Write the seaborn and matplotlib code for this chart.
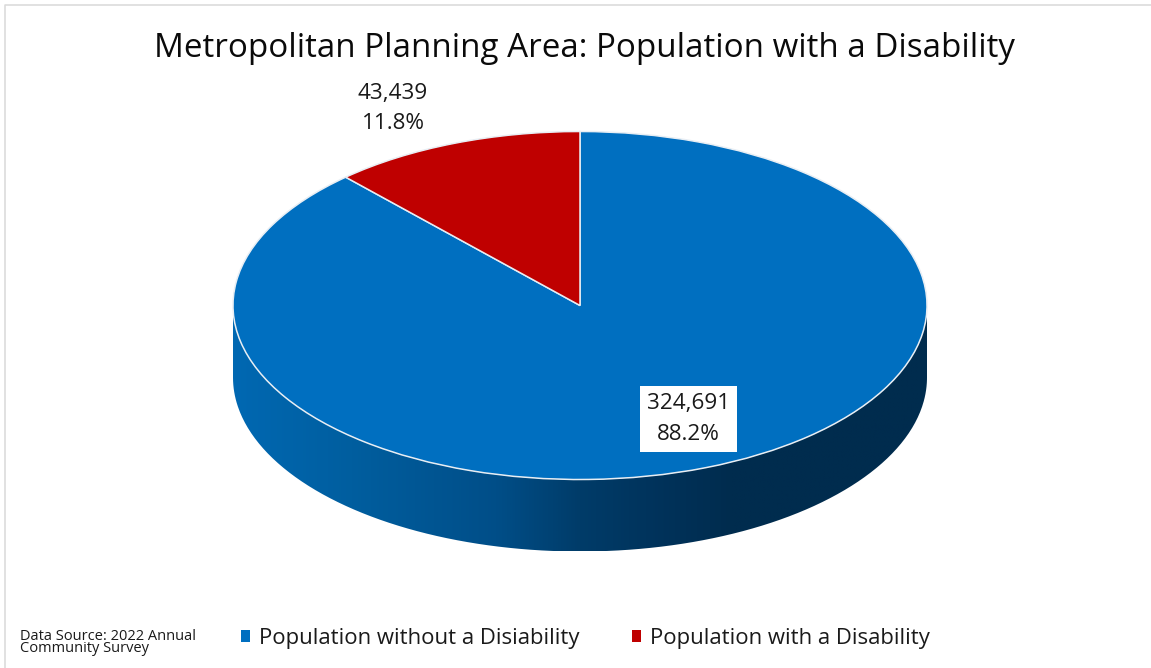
import numpy as np
import matplotlib
matplotlib.use("Agg")
import matplotlib.pyplot as plt
from matplotlib.colors import LinearSegmentedColormap
from matplotlib.patches import PathPatch
from matplotlib.path import Path
from matplotlib.lines import Line2D
import seaborn as sns

categories = ["Population without a Disiability", "Population with a Disability"]
values = [324691, 43439]
percents = [88.2, 11.8]
title = "Metropolitan Planning Area: Population with a Disability"
source = "Data Source: 2022 Annual\nCommunity Survey"

sns.set_theme(style="white")
FONT = "Open Sans"
plt.rcParams["font.family"] = [FONT, "DejaVu Sans"]
palette = sns.color_palette(["#006FC0", "#BF0000"])
W, H = 1151, 668
CX, CY, RX, RY, DEPTH = 580, 305.5, 347, 174, 72

fig = plt.figure(figsize=(W / 100, H / 100), dpi=100, facecolor="white")
ax = fig.add_axes([0, 0, 1, 1])


def px(x, y):
    return (x - CX) / RX, (CY - y) / RY


# extruded rim of the pie, shaded left to right
d = DEPTH / RY
t = np.linspace(np.pi, 2 * np.pi, 300)
verts = np.vstack([
    np.column_stack([np.cos(t), np.sin(t) - d]),
    np.column_stack([np.cos(t[::-1]), np.sin(t[::-1])]),
])
rim = PathPatch(Path(np.vstack([verts, verts[0]])), transform=ax.transData, fc="none", ec="none")
ax.add_patch(rim)
stops = [(0.0, "#0068B2"), (0.17, "#005E9F"), (0.38, "#004E88"), (0.5, "#003C69"),
         (0.62, "#00325A"), (0.72, "#002C4E"), (1.0, "#002C4E")]
cmap = LinearSegmentedColormap.from_list("rim", stops)
img = ax.imshow(np.linspace(0, 1, 512)[None, :], cmap=cmap, aspect="auto",
                extent=(-1, 1, -1 - d, 0.2), zorder=1, interpolation="bilinear")
img.set_clip_path(rim)

wedges, _ = ax.pie(values, colors=palette, startangle=90, counterclock=False,
                   wedgeprops=dict(edgecolor="#E8EEF4", linewidth=1.1, zorder=2))
for w in wedges:
    w.set_zorder(2)
ax.set_aspect("auto")
ax.set_xlim(px(0, 0)[0], px(W, 0)[0])
ax.set_ylim(px(0, H)[1], px(0, 0)[1])
ax.axis("off")

# chart frame (only top and left edges are visible)
fig.add_artist(Line2D([4.5 / W, 4.5 / W, 1], [0, 1 - 4.5 / H, 1 - 4.5 / H],
                      color="#D9D9D9", lw=1.1, transform=fig.transFigure))

ax.text(*px(584.5, 48.5), title, ha="center", va="center", fontsize=23.9, color="#0A0A0A")


def label(i):
    return f"{values[i]:,}\n{percents[i]:.1f}%"


lab_kw = dict(ha="center", va="center", fontsize=16.2, color="#1A1A1A", linespacing=1.6, zorder=5)
ax.text(*px(688.5, 419), label(0),
        bbox=dict(boxstyle="square,pad=0.3", fc="white", ec="none"), **lab_kw)
ax.text(*px(393, 108.5), label(1), **lab_kw)

ax.text(*px(20, 642.5), source, ha="left", va="center", fontsize=10.55, color="#1A1A1A", linespacing=0.8)

leg = ax.legend(wedges, categories, loc="center left", bbox_to_anchor=(241 / W, 1 - 638.5 / H),
                bbox_transform=fig.transFigure, ncol=2, frameon=False, fontsize=15.9,
                handlelength=0.405, handleheight=0.405, handletextpad=0.405, columnspacing=2.39,
                borderpad=0, borderaxespad=0, labelcolor="#1A1A1A")
for h in leg.get_patches():
    h.set_edgecolor("none")

fig.savefig("out.png", dpi=100)
